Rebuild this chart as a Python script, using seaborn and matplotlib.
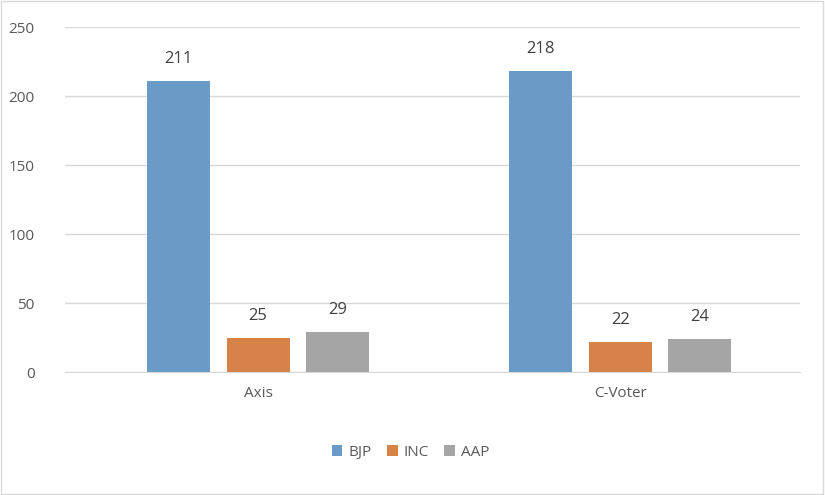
import matplotlib
matplotlib.use("Agg")
import matplotlib.pyplot as plt
import seaborn as sns
import pandas as pd

pollsters = ["Axis", "C-Voter"]
parties = ["BJP", "INC", "AAP"]
bjp = [211, 218]
inc = [25, 22]
aap = [29, 24]

df = pd.DataFrame({
    "pollster": pollsters * 3,
    "party": ["BJP"] * 2 + ["INC"] * 2 + ["AAP"] * 2,
    "seats": bjp + inc + aap,
})

plt.rcParams["font.family"] = "Open Sans"
fig = plt.figure(figsize=(8.25, 4.95), dpi=100)
ax = fig.add_axes([0.079, 0.248, 0.891, 0.697])
palette = {"BJP": "#5B9BD5", "INC": "#ED7D31", "AAP": "#A5A5A5"}
sns.barplot(data=df, x="pollster", y="seats", hue="party", hue_order=parties,
            palette=palette, width=0.66, gap=0.21, ax=ax, legend=True)

for c in ax.containers:
    ax.bar_label(c, padding=10, fontsize=12, color="#404040")

ax.set_ylim(0, 250)
ax.set_xlim(-0.533, 1.497)
ax.set_yticks(range(0, 251, 50))
ax.yaxis.grid(True, color="#d9d9d9", lw=1)
ax.set_axisbelow(True)
for s in ax.spines.values():
    s.set_visible(False)
ax.spines["bottom"].set_visible(True)
ax.spines["bottom"].set_color("#d9d9d9")
ax.tick_params(length=0, labelsize=11, colors="#595959", pad=10)
ax.tick_params(axis="y", pad=22)
ax.set_xlabel("")
ax.set_ylabel("")
ax.legend(loc="upper center", bbox_to_anchor=(0.47, -0.17), ncol=3, frameon=False,
          fontsize=11, handlelength=0.7, handleheight=0.7, columnspacing=1.0,
          handletextpad=0.4, labelcolor="#595959")

fig.patches.append(plt.Rectangle((0.001, 0.002), 0.997, 0.996, transform=fig.transFigure,
                                 fill=False, edgecolor="#d9d9d9", lw=1))
fig.savefig("out.png", dpi=100)
